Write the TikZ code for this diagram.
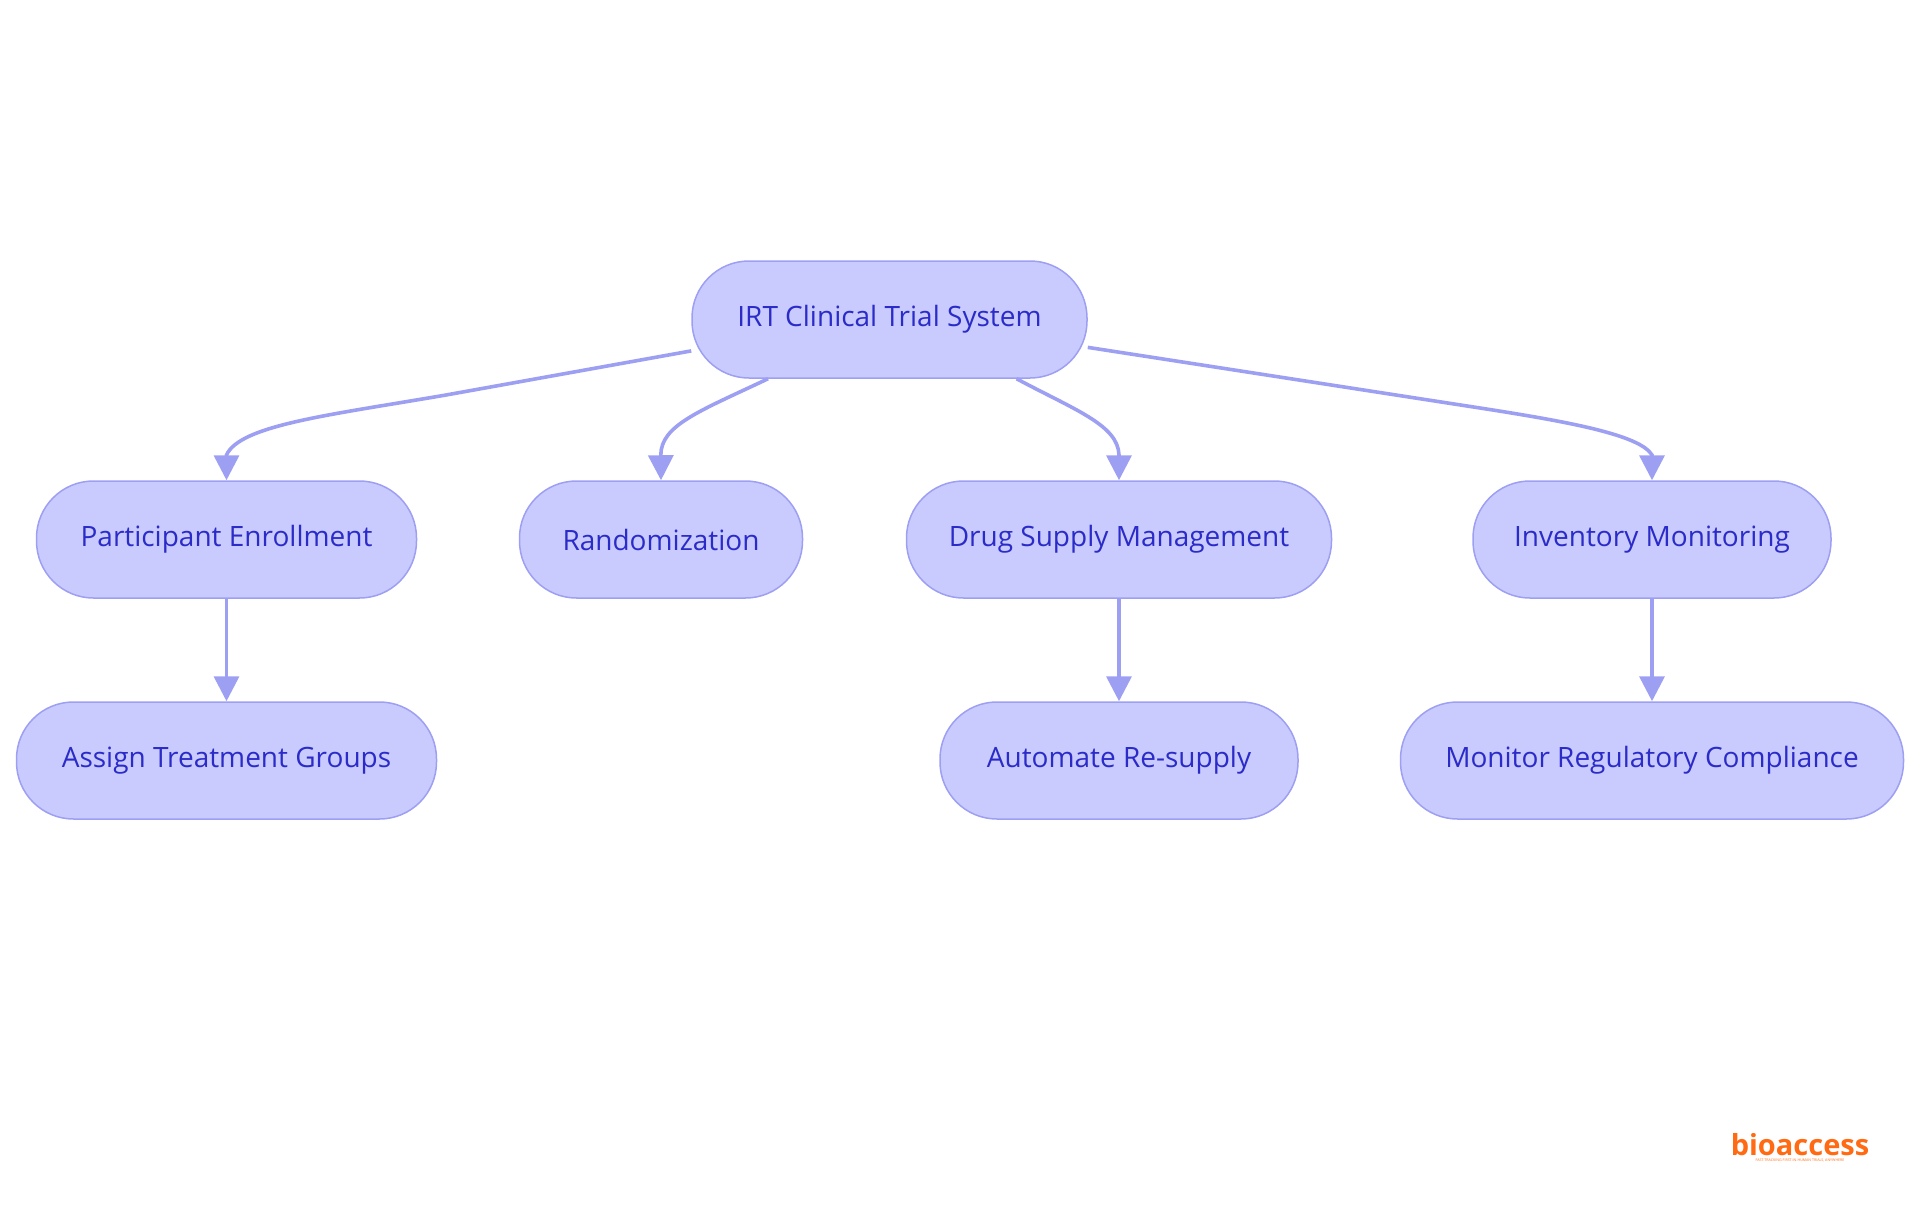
\documentclass[tikz,border=0pt]{standalone}
\usepackage{fontspec}
\setmainfont{Open Sans}
\usetikzlibrary{arrows.meta}
\definecolor{nodefill}{HTML}{C9CBFF}
\definecolor{nodeline}{HTML}{9D9FF2}
\definecolor{nodetext}{HTML}{2B2BC8}
\definecolor{logoorange}{HTML}{FF6A13}
\tikzset{
  stadium/.style={draw=nodeline,fill=nodefill,line width=1.5pt,rounded corners=57pt,
    text=nodetext,font=\fontsize{28}{32}\selectfont,inner sep=0pt,minimum height=117pt,anchor=center},
  edgeline/.style={draw=nodeline,line width=3.6pt,-{Triangle[length=25pt,width=25pt,fill=nodeline]}}
}
\begin{document}
\begin{tikzpicture}[x=1pt,y=-1pt]
\useasboundingbox (0,0) rectangle (1920,1215);
\node[stadium,minimum width=395pt] (root) at (889.5,319.5) {IRT Clinical Trial System};
\node[stadium,minimum width=380pt] (part) at (226.5,539.5) {Participant Enrollment};
\node[stadium,minimum width=283pt] (rand) at (661,539.5) {Randomization};
\node[stadium,minimum width=425pt] (drug) at (1119,539.5) {Drug Supply Management};
\node[stadium,minimum width=358pt] (inv) at (1652,539.5) {Inventory Monitoring};
\node[stadium,minimum width=420pt] (assign) at (226.5,760.5) {Assign Treatment Groups};
\node[stadium,minimum width=358pt] (auto) at (1119,760.5) {Automate Re-supply};
\node[stadium,minimum width=503pt] (mon) at (1652,760.5) {Monitor Regulatory Compliance};
\draw[edgeline] (root.189.3) -- (446,395) .. controls (330,415) and (240,425) .. (226.5,455) -- (part.north);
\draw[edgeline] (root.206.1) .. controls (700,411) and (661,425) .. (660.8,455) -- (rand.north);
\draw[edgeline] (root.-25.9) .. controls (1075,410) and (1118,425) .. (1119,455) -- (drug.north);
\draw[edgeline] (root.-8.2) -- (1480,408) .. controls (1570,422) and (1640,435) .. (1652,455) -- (inv.north);
\draw[edgeline] (part) -- (assign);
\draw[edgeline] (drug) -- (auto);
\draw[edgeline] (inv) -- (mon);
\node[text=logoorange,font=\fontsize{29}{30}\bfseries\selectfont,inner sep=0pt] (logo) at (1800,1145) {bioaccess};
\node[text=logoorange,font=\fontsize{3.6}{4}\selectfont,inner sep=0pt] (tag) at (1800,1160.5) {FAST-TRACKING FIRST-IN-HUMAN TRIALS, ANYWHERE};
\end{tikzpicture}
\end{document}
